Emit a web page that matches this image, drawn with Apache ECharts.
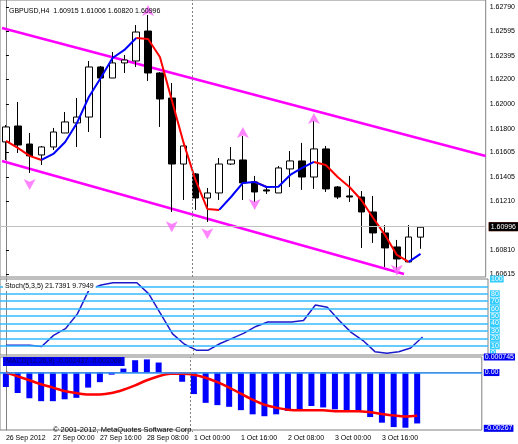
<!DOCTYPE html>
<html>
<head>
<meta charset="utf-8">
<script src="https://cdn.jsdelivr.net/npm/echarts@6/dist/echarts.min.js"></script>
<style>html,body{margin:0;padding:0;background:#fff}#main{width:518px;height:444px}</style>
</head>
<body>
<div id="main"></div>
<script>
// candles: [open, close, low, high], H4 bars from 26 Sep 08:00
var candles = [
  [1.61691,1.61813,1.61544,1.61829],[1.61821,1.61666,1.61601,1.62017],[1.61674,1.61577,1.61438,1.61764],
  [1.61585,1.61650,1.61503,1.61658],[1.61650,1.61772,1.61626,1.61805],[1.61764,1.61854,1.61764,1.61935],
  [1.61846,1.61894,1.61650,1.62049],[1.61894,1.62302,1.61772,1.62351],[1.62302,1.62212,1.61723,1.62310],
  [1.62212,1.62335,1.62212,1.62424],[1.62335,1.62359,1.62253,1.62400],[1.62351,1.62587,1.62302,1.62644],
  [1.62595,1.62253,1.62188,1.62726],[1.62253,1.62041,1.61813,1.62260],[1.62049,1.61511,1.61120,1.62172],
  [1.61511,1.61658,1.61218,1.61665],[1.61430,1.61234,1.61137,1.61438],[1.61234,1.61275,1.61039,1.61316],
  [1.61275,1.61511,1.61218,1.61560],[1.61511,1.61544,1.61503,1.61650],[1.61544,1.61357,1.61218,1.61740],
  [1.61365,1.61283,1.61202,1.61414],[1.61300,1.61291,1.61267,1.61324],[1.61275,1.61479,1.61275,1.61495],
  [1.61471,1.61536,1.61324,1.61617],[1.61536,1.61405,1.61300,1.61683],[1.61405,1.61634,1.61308,1.61862],
  [1.61634,1.61308,1.61283,1.61658],[1.61324,1.61242,1.61226,1.61332],[1.61251,1.61242,1.61202,1.61414],
  [1.61242,1.61120,1.60827,1.61291],[1.61120,1.60949,1.60868,1.61251],[1.60949,1.60827,1.60672,1.61014],
  [1.60835,1.60737,1.60648,1.60892],[1.60713,1.60916,1.60713,1.61014],[1.60915,1.60996,1.60820,1.61006]
];
var maLine = [1.61699,1.61642,1.61577,1.61544,1.61593,1.61691,1.61846,1.62057,1.62212,1.62375,1.62441,1.62538,
  1.62530,1.62383,1.62033,1.61683,1.61381,1.61145,1.61137,1.61242,1.61357,1.61365,1.61324,1.61326,
  1.61422,1.61479,1.61528,1.61503,1.61405,1.61324,1.61218,1.61071,1.60933,1.60770,1.60713,1.60778];
var upperChannel = [[-0.33,1.62620],[40.5,1.61577]];
var lowerChannel = [[-0.33,1.61536],[33.6,1.60615]];
var upArrows = [[12,1.62807],[20,1.61813],[26,1.61927]];
var downArrows = [[2,1.61300],[14,1.60955],[17,1.60898],[21,1.61137],[33,1.60600]];
var stochK = [10.7,10.7,10.7,9,24,33,53,86,92,95,95,95,80,53,26,12,4,4,13,20,27,36,42,42,42,44,65,62,44,28,17,2,0,2,7,21.7];
var macdHist = [-0.00069,-0.00098,-0.00123,-0.00137,-0.00137,-0.00128,-0.00121,-0.00072,-0.00046,-0.0001,0.00019,0.00059,
  0.00063,0.00048,-0.00002,-0.00044,-0.00103,-0.00145,-0.00156,-0.00164,-0.0018,-0.002,-0.00209,-0.002,
  -0.00184,-0.0018,-0.0016,-0.00167,-0.00176,-0.00189,-0.00189,-0.00213,-0.0024,-0.00261,-0.00264,-0.002437];
var macdSignal = [0,-0.00018,-0.00037,-0.00056,-0.00072,-0.00088,-0.00098,-0.00105,-0.00105,-0.00098,-0.00082,-0.00061,
  -0.00037,-0.00018,-0.00006,-0.00006,-0.0001,-0.00025,-0.00046,-0.00072,-0.00101,-0.0013,-0.00154,-0.00168,
  -0.00178,-0.00181,-0.00181,-0.00181,-0.00185,-0.00185,-0.00185,-0.0019,-0.00198,-0.00205,-0.0021,-0.002068];
var priceTicks = [1.62790,1.62595,1.62395,1.62200,1.62000,1.61800,1.61605,1.61405,1.61210,1.60810,1.60615];
var stochLevels = [10,20,30,40,50,60,70,80,90];
var stochTicks = [0,10,20,30,40,50,60,70,80,100];
var macdTicks = [0.000745,0,-0.00267];
var timeTicks = {0:'26 Sep 2012',4:'27 Sep 00:00',8:'27 Sep 16:00',12:'28 Sep 08:00',16:'1 Oct 00:00',
  20:'1 Oct 16:00',24:'2 Oct 08:00',28:'3 Oct 00:00',32:'3 Oct 16:00'};
var bid = 1.60996, ask = 1.61014, separatorAt = 15.73;

var nCat = 41;
var cats = [];
for (var i = 0; i < nCat; i++) cats.push(String(i));

var maRed = [], maBlue = [];
for (var i = 0; i < maLine.length; i++) {
  var p = i > 0 ? maLine[i] - maLine[i - 1] : null;
  var n = i < maLine.length - 1 ? maLine[i + 1] - maLine[i] : null;
  maRed.push((p !== null && p <= 0) || (n !== null && n <= 0) ? maLine[i] : '-');
  maBlue.push((p !== null && p > 0) || (n !== null && n > 0) ? maLine[i] : '-');
}

var fnt = 'Liberation Sans';
var fs = 7;
var sepLine = {silent: true, symbol: 'none', label: {show: false},
  lineStyle: {color: '#808080', type: [2, 2], width: 1}, data: [{xAxis: separatorAt}]};

var myChart = echarts.init(document.getElementById('main'));
var option = {
  animation: false,
  backgroundColor: '#fff',
  textStyle: {fontFamily: fnt},
  title: [{
    text: 'GBPUSD,H4  1.60915 1.61006 1.60820 1.60996', left: 4, top: 3,
    textStyle: {fontFamily: fnt, fontSize: fs, fontWeight: 'normal', color: '#000'}
  }, {
    text: 'Stoch(5,3,5) 21.7391 9.7949', left: 3, top: 282, padding: [1, 2],
    backgroundColor: '#fff', textStyle: {fontFamily: fnt, fontSize: fs, fontWeight: 'normal', color: '#000'}
  }, {
    text: 'MACD(12,26,9) -0.002437 -0.002068', left: 3, top: 357, padding: [1, 3],
    backgroundColor: '#0000ee', textStyle: {fontFamily: fnt, fontSize: fs, fontWeight: 'normal', color: '#000066'}
  }, {
    text: '© 2001-2012, MetaQuotes Software Corp.', left: 48, top: 421,
    textStyle: {fontFamily: fnt, fontSize: 7.5, fontWeight: 'normal', color: '#000'}
  }],
  grid: [
    {left: -2, right: 30, top: 0, height: 277, show: true, borderColor: '#808080'},
    {left: -2, right: 30, top: 279, height: 76, show: true, borderColor: '#808080'},
    {left: -2, right: 30, top: 357, height: 73, show: true, borderColor: '#808080'}
  ],
  xAxis: [
    {type: 'category', gridIndex: 0, data: cats, show: false},
    {type: 'category', gridIndex: 1, data: cats, show: false},
    {type: 'category', gridIndex: 2, data: cats,
      axisLine: {lineStyle: {color: '#808080'}},
      axisTick: {length: 3, interval: function (i) { return i % 4 === 0; }, lineStyle: {color: '#000'}},
      axisLabel: {interval: function (i) { return i % 4 === 0; }, formatter: function (v, i) { return timeTicks[i] || ''; },
        align: 'left', margin: 5, fontFamily: fnt, fontSize: fs, color: '#000', hideOverlap: false}},
    {type: 'value', gridIndex: 0, min: -0.5, max: 40.5, show: false},
    {type: 'value', gridIndex: 1, min: -0.5, max: 40.5, show: false},
    {type: 'value', gridIndex: 2, min: -0.5, max: 40.5, show: false}
  ],
  yAxis: [
    {type: 'value', gridIndex: 0, position: 'right', min: 1.60590, max: 1.62848, splitLine: {show: false},
      axisLine: {show: true, lineStyle: {color: '#808080'}},
      axisTick: {show: true, length: 3, customValues: priceTicks, lineStyle: {color: '#000'}},
      axisLabel: {customValues: priceTicks, margin: 4, formatter: function (v) { return v.toFixed(5); }, fontFamily: fnt, fontSize: fs, color: '#000'}},
    {type: 'value', gridIndex: 1, position: 'right', min: -2.5, max: 100, splitLine: {show: false},
      axisLine: {show: true, lineStyle: {color: '#808080'}}, axisTick: {show: false},
      axisLabel: {customValues: stochTicks, margin: 2, fontFamily: fnt, fontSize: fs, color: '#fff',
        backgroundColor: '#33ccff', padding: [0, 1]}},
    {type: 'value', gridIndex: 2, position: 'right', min: -0.00275, max: 0.000745, splitLine: {show: false},
      axisLine: {show: true, lineStyle: {color: '#808080'}}, axisTick: {show: false},
      axisLabel: {customValues: macdTicks, margin: 2, fontFamily: fnt, fontSize: fs, color: '#fff',
        backgroundColor: '#0000ee', padding: [0, 1],
        formatter: function (v) { return v === 0 ? '0.00' : (v > 0 ? '0.000745' : '-0.00267'); }}}
  ],
  series: [
    {type: 'candlestick', xAxisIndex: 0, yAxisIndex: 0, barWidth: 7, z: 3,
      data: candles,
      itemStyle: {color: '#fff', color0: '#000', borderColor: '#000', borderColor0: '#000', borderWidth: 1},
      markLine: {silent: true, symbol: 'none', data: [
        {yAxis: ask, lineStyle: {color: '#ff5020', type: 'solid', width: 1},
          label: {position: 'end', formatter: ask.toFixed(5), backgroundColor: '#ff5020', color: '#fff', fontFamily: fnt, fontSize: fs, padding: [1, 2], distance: 3}},
        {yAxis: bid, lineStyle: {color: '#c0c0c0', type: 'solid', width: 1},
          label: {position: 'end', formatter: bid.toFixed(5), backgroundColor: '#000', color: '#fff', fontFamily: fnt, fontSize: fs, padding: [1, 2], distance: 3}}
      ]}},
    {type: 'line', xAxisIndex: 0, yAxisIndex: 0, data: maRed, showSymbol: false, z: 4,
      lineStyle: {color: '#ff0000', width: 2}},
    {type: 'line', xAxisIndex: 0, yAxisIndex: 0, data: maBlue, showSymbol: false, z: 4,
      lineStyle: {color: '#0000ff', width: 2}},
    {type: 'line', xAxisIndex: 3, yAxisIndex: 0, data: upperChannel, showSymbol: false, z: 2,
      lineStyle: {color: '#ff00ff', width: 2.5}, markLine: sepLine},
    {type: 'line', xAxisIndex: 3, yAxisIndex: 0, data: lowerChannel, showSymbol: false, z: 2,
      lineStyle: {color: '#ff00ff', width: 2.5}},
    {type: 'scatter', xAxisIndex: 0, yAxisIndex: 0, data: upArrows, symbol: 'arrow', symbolSize: [9, 11], z: 5,
      itemStyle: {color: '#ff66ff'}},
    {type: 'scatter', xAxisIndex: 0, yAxisIndex: 0, data: downArrows, symbol: 'arrow', symbolRotate: 180, symbolSize: [9, 11], z: 5,
      itemStyle: {color: '#ff66ff'}},
    {type: 'line', xAxisIndex: 1, yAxisIndex: 1, data: stochK, showSymbol: false, z: 4,
      lineStyle: {color: '#1a1acc', width: 1.5},
      markLine: {silent: true, symbol: 'none', label: {show: false},
        lineStyle: {color: '#33bbff', type: 'solid', width: 1.5},
        data: stochLevels.map(function (v) { return {yAxis: v}; })}},
    {type: 'scatter', xAxisIndex: 4, yAxisIndex: 1, data: [], markLine: sepLine},
    {type: 'bar', xAxisIndex: 2, yAxisIndex: 2, data: macdHist, barWidth: 6, z: 2,
      itemStyle: {color: '#0000ff'},
      markLine: {silent: true, symbol: 'none', label: {show: false},
        lineStyle: {color: '#3399ff', type: 'solid', width: 1.5}, data: [{yAxis: 0}]}},
    {type: 'line', xAxisIndex: 2, yAxisIndex: 2, data: macdSignal, showSymbol: false, smooth: 0.3, z: 4,
      lineStyle: {color: '#ff0000', width: 2.5}},
    {type: 'scatter', xAxisIndex: 5, yAxisIndex: 2, data: [], markLine: sepLine}
  ]
};
myChart.setOption(option);
</script>
</body>
</html>
